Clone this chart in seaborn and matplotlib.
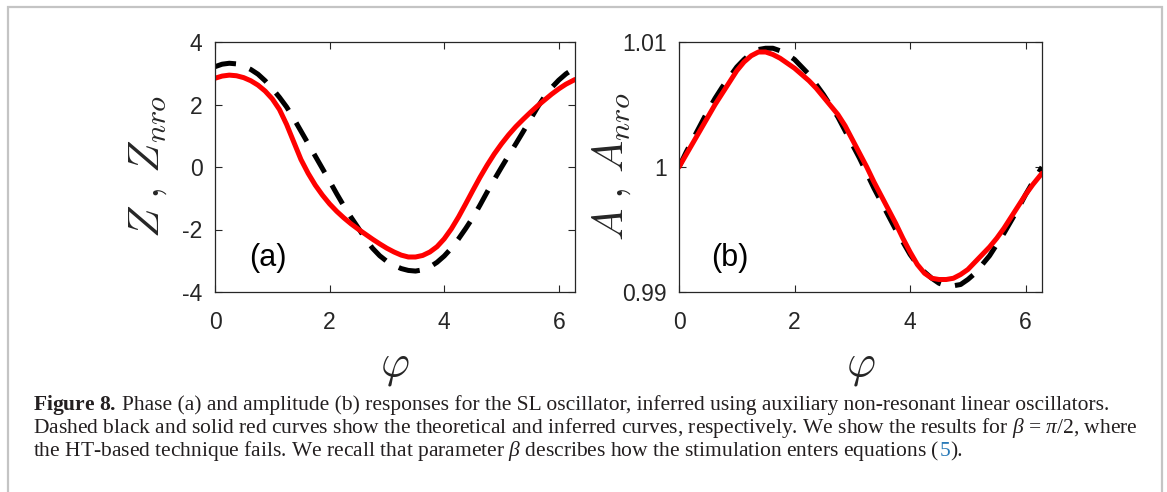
import numpy as np
import pandas as pd
import matplotlib
matplotlib.use("Agg")
import matplotlib.pyplot as plt
import seaborn as sns
from matplotlib.patches import Rectangle

# ---------------- data ----------------
phi = [0.0, 0.125, 0.25, 0.375, 0.5, 0.625, 0.75, 0.875,
       1.0, 1.125, 1.25, 1.375, 1.5, 1.625, 1.75, 1.875,
       2.0, 2.125, 2.25, 2.375, 2.5, 2.625, 2.75, 2.875,
       3.0, 3.125, 3.25, 3.375, 3.5, 3.625, 3.75, 3.875,
       4.0, 4.125, 4.25, 4.375, 4.5, 4.625, 4.75, 4.875,
       5.0, 5.125, 5.25, 5.375, 5.5, 5.625, 5.75, 5.875,
       6.0, 6.125, 6.283]

# panel (a): phase response
z_theory = [3.21, 3.29, 3.32, 3.30, 3.23, 3.12, 2.97, 2.76,
            2.51, 2.23, 1.92, 1.55, 1.15, 0.75, 0.35, -0.05,
            -0.45, -0.86, -1.25, -1.61, -1.95, -2.30, -2.60, -2.84,
            -3.02, -3.15, -3.25, -3.31, -3.33, -3.29, -3.20, -3.05,
            -2.85, -2.60, -2.30, -1.97, -1.62, -1.22, -0.80, -0.40,
            -0.01, 0.37, 0.74, 1.12, 1.51, 1.90, 2.25, 2.54,
            2.78, 2.98, 3.17]
z_inferred = [2.84, 2.91, 2.94, 2.92, 2.86, 2.76, 2.62, 2.43,
              2.18, 1.84, 1.36, 0.80, 0.24, -0.20, -0.58, -0.90,
              -1.18, -1.42, -1.63, -1.82, -1.99, -2.15, -2.31, -2.46,
              -2.60, -2.72, -2.82, -2.88, -2.88, -2.83, -2.72, -2.55,
              -2.30, -1.98, -1.60, -1.18, -0.75, -0.33, 0.06, 0.42,
              0.74, 1.03, 1.29, 1.52, 1.74, 1.95, 2.14, 2.33,
              2.50, 2.65, 2.80]

# panel (b): amplitude response
a_theory = [1.0000, 1.0012, 1.0023, 1.0034, 1.0045, 1.0055, 1.0064, 1.0072,
            1.0080, 1.0086, 1.0091, 1.0094, 1.0095, 1.0095, 1.0093, 1.0090,
            1.0086, 1.0080, 1.0074, 1.0066, 1.0058, 1.0049, 1.0040, 1.0029,
            1.0018, 1.0007, 0.9995, 0.9983, 0.9972, 0.9961, 0.9950, 0.9940,
            0.9930, 0.9922, 0.9916, 0.9911, 0.9907, 0.9905, 0.9905, 0.9906,
            0.9910, 0.9915, 0.9922, 0.9929, 0.9938, 0.9947, 0.9957, 0.9967,
            0.9978, 0.9988, 1.0000]
a_inferred = [1.0000, 1.0010, 1.0020, 1.0030, 1.0040, 1.0050, 1.0059, 1.0068,
              1.0077, 1.0084, 1.0089, 1.0092, 1.0092, 1.0090, 1.0087, 1.0083,
              1.0079, 1.0074, 1.0069, 1.0063, 1.0056, 1.0049, 1.0042, 1.0033,
              1.0022, 1.0011, 1.0000, 0.9988, 0.9977, 0.9966, 0.9955, 0.9943,
              0.9932, 0.9922, 0.9915, 0.9911, 0.9910, 0.9910, 0.9911, 0.9914,
              0.9918, 0.9924, 0.9930, 0.9936, 0.9943, 0.9951, 0.9960, 0.9969,
              0.9978, 0.9986, 0.9995]

x_ticks = [0, 2, 4, 6]
x_ticklabels = ["0", "2", "4", "6"]
a_yticks = [-4, -2, 0, 2, 4]
a_yticklabels = ["-4", "-2", "0", "2", "4"]
b_yticks = [0.99, 1.0, 1.01]
b_yticklabels = ["0.99", "1", "1.01"]

panel_labels = ["(a)", "(b)"]
y_labels = [r"$Z\;,\,Z_{nro}$", r"$A\;,\,A_{nro}$"]
x_label = r"$\varphi$"

caption_lines = [
    r"$\mathbf{Figure\ 8.}$Phase (a) and amplitude (b) responses for the SL oscillator, inferred using auxiliary non-resonant linear oscillators.",
    r"Dashed black and solid red curves show the theoretical and inferred curves, respectively. We show the results for $\beta$ = $\pi$/2, where",
    r"the HT-based technique fails. We recall that parameter $\beta$ describes how the stimulation enters equations (",
]

# ---------------- style ----------------
sns.set_theme(style="white")
plt.rcParams["font.family"] = ["Liberation Sans", "DejaVu Sans"]
plt.rcParams["mathtext.fontset"] = "cm"
plt.rcParams["mathtext.rm"] = "Liberation Serif"
plt.rcParams["mathtext.it"] = "Liberation Serif:italic"
plt.rcParams["mathtext.bf"] = "Liberation Serif:bold"

W, H = 1167, 492
fig = plt.figure(figsize=(W / 100, H / 100), dpi=100)
fig.patch.set_facecolor("white")


def frame(x0, y0, x1, y1):
    return [x0 / W, 1 - y1 / H, (x1 - x0) / W, (y1 - y0) / H]


ax_a = fig.add_axes(frame(215, 42, 575, 292))
ax_b = fig.add_axes(frame(679, 42, 1042, 292))

dark = "#262626"
df_a = pd.DataFrame({"phi": phi, "theory": z_theory, "inferred": z_inferred})
df_b = pd.DataFrame({"phi": phi, "theory": a_theory, "inferred": a_inferred})

for ax, df in [(ax_a, df_a), (ax_b, df_b)]:
    sns.lineplot(data=df, x="phi", y="theory", ax=ax, color="black", lw=3.6,
                 linestyle=(0, (4.3, 2.9)), estimator=None, sort=False,
                 dash_joinstyle="round")
    sns.lineplot(data=df, x="phi", y="inferred", ax=ax, color="#ff0000", lw=3.6,
                 estimator=None, sort=False, solid_joinstyle="round")

ax_a.set_ylim(-4, 4)
ax_a.set_yticks(a_yticks)
ax_a.set_yticklabels(a_yticklabels)
ax_b.set_ylim(0.99, 1.01)
ax_b.set_yticks(b_yticks)
ax_b.set_yticklabels(b_yticklabels)

for i, ax in enumerate([ax_a, ax_b]):
    ax.set_xlim(0, 2 * np.pi)
    ax.set_xticks(x_ticks)
    ax.set_xticklabels(x_ticklabels)
    ax.tick_params(direction="in", length=5, width=0.8, color=dark,
                   labelcolor=dark, labelsize=16.5, top=True, right=True,
                   bottom=True, left=True)
    ax.tick_params(axis="x", pad=13.5)
    ax.tick_params(axis="y", pad=9)
    for s in ax.spines.values():
        s.set_color(dark)
        s.set_linewidth(0.9)
    ax.set_xlabel(x_label, fontsize=32, color=dark)
    ax.set_ylabel(y_labels[i], fontsize=31, color=dark)
    ax.xaxis.set_label_coords(0.5, -0.22)
    ax.grid(False)
    ax.set_facecolor("white")

ax_a.yaxis.set_label_coords(-0.128, 0.5)
ax_b.yaxis.set_label_coords(-0.126, 0.5)

ax_a.text(0.93, -2.9, panel_labels[0], fontsize=22, color="black",
          ha="center", va="center")
ax_b.text(0.88, 0.99272, panel_labels[1], fontsize=22, color="black",
          ha="center", va="center")

# figure frame
fig.add_artist(Rectangle((7.5 / W, -0.2), (1161.5 - 7.5) / W, 1.2 - 6.5 / H,
                         transform=fig.transFigure, fill=False,
                         ec="#c4c4c4", lw=1.6, clip_on=False))

# ---------------- caption ----------------
fig.canvas.draw()
r = fig.canvas.get_renderer()
cap_color = "#231f20"
cap_kw = dict(family="Liberation Serif", math_fontfamily="custom",
              color=cap_color, va="baseline", ha="left")

probe = fig.text(0, 0, caption_lines[0], fontsize=10, **cap_kw)
w10 = probe.get_window_extent(r).width
probe.remove()
cap_size = 10 * 1077.0 / w10

x0 = 33
baselines = [410, 433, 456]
# first line: bold lead-in, then the rest after a normal word space
lead = fig.text(x0 / W, 1 - baselines[0] / H, r"$\mathbf{Figure\ 8.}$",
                fontsize=cap_size, **cap_kw)
xl = x0 + lead.get_window_extent(r).width + 0.28 * cap_size * 100 / 72
fig.text(xl / W, 1 - baselines[0] / H, caption_lines[0].split("$", 2)[2],
         fontsize=cap_size, **cap_kw)

fig.text(x0 / W, 1 - baselines[1] / H, caption_lines[1], fontsize=cap_size, **cap_kw)

t3 = fig.text(x0 / W, 1 - baselines[2] / H, caption_lines[2], fontsize=cap_size, **cap_kw)
x = x0 + t3.get_window_extent(r).width
t5 = fig.text(x / W, 1 - baselines[2] / H, "5", fontsize=cap_size,
              family="Liberation Serif", color="#2a7ab8", va="baseline", ha="left")
x += t5.get_window_extent(r).width + 0.5
fig.text(x / W, 1 - baselines[2] / H, ").", fontsize=cap_size,
         family="Liberation Serif", color=cap_color, va="baseline", ha="left")

fig.savefig("out.png", dpi=100, facecolor="white")
